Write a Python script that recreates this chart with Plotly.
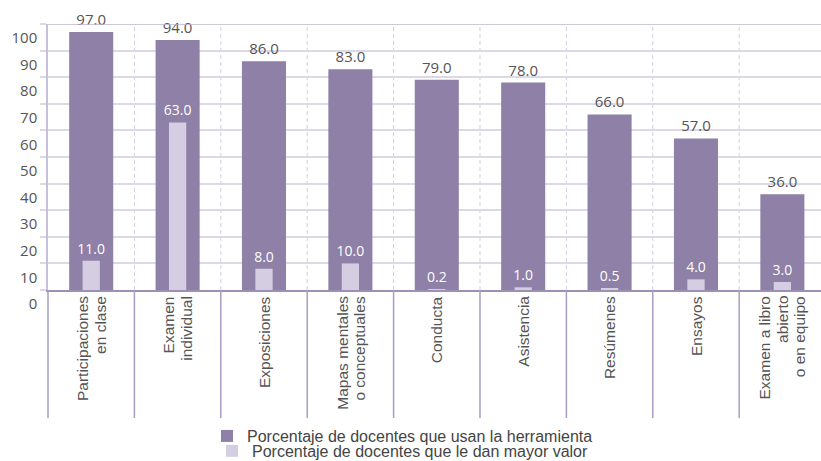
import plotly.graph_objects as go

categories = [
    "Participaciones\nen clase",
    "Examen\nindividual",
    "Exposiciones",
    "Mapas mentales\no conceptuales",
    "Conducta",
    "Asistencia",
    "Resúmenes",
    "Ensayos",
    "Examen a libro\nabierto\no en equipo",
]
usan = [97.0, 94.0, 86.0, 83.0, 79.0, 78.0, 66.0, 57.0, 36.0]
mayor_valor = [11.0, 63.0, 8.0, 10.0, 0.2, 1.0, 0.5, 4.0, 3.0]
y_ticks = [0, 10, 20, 30, 40, 50, 60, 70, 80, 90, 100]
legend_names = [
    "Porcentaje de docentes que usan la herramienta",
    "Porcentaje de docentes que le dan mayor valor",
]

PURPLE = "#8e80a6"
LIGHT = "#d5cde1"
GRID = "#ddd8e8"
SEP = "#a99cc3"
TXT = "#555555"

x = list(range(len(categories)))

fig = go.Figure()
fig.add_trace(go.Bar(
    x=x, y=usan, width=0.51, marker=dict(color=PURPLE, line=dict(width=0)),
    name=legend_names[0], text=[f"{v:.1f}" for v in usan],
    textposition="outside", cliponaxis=False, constraintext="none",
    textfont=dict(family="Open Sans", size=15, color=TXT),
    legend="legend",
))
fig.add_trace(go.Bar(
    x=x, y=mayor_valor, width=0.2, marker=dict(color=LIGHT, line=dict(width=0)),
    name=legend_names[1], text=[f"{v:.1f}" for v in mayor_valor],
    textposition="outside", cliponaxis=False, constraintext="none",
    textfont=dict(family="Open Sans", size=14, color="white"),
    legend="legend2",
))

shapes = []
# top border line
shapes.append(dict(type="line", xref="paper", yref="y", x0=0, x1=1, y0=100, y1=100,
                   line=dict(color="#bdb4cc", width=1.5)))
# separators: dashed within plot, solid below baseline
for i in range(len(categories)):
    xs = i + 0.5
    shapes.append(dict(type="line", xref="x", yref="y", x0=xs, x1=xs, y0=0, y1=100,
                       line=dict(color="#d4cde2", width=1, dash="4px,3px"), layer="below"))
    shapes.append(dict(type="line", xref="x", yref="paper", x0=xs, x1=xs, y0=-0.481, y1=0,
                       line=dict(color=SEP, width=1.5)))
# left axis extension below baseline
shapes.append(dict(type="line", xref="paper", yref="paper", x0=0, x1=0, y0=-0.481, y1=0,
                   line=dict(color=SEP, width=1.5)))

annotations = []
for i, lab in enumerate(categories):
    lines = lab.split("\n")
    n = len(lines)
    for j, ln in enumerate(lines):
        annotations.append(dict(
            x=i, xref="x", y=0, yref="paper", xanchor="center", yanchor="top",
            xshift=(j - (n - 1) / 2) * 17.4, yshift=-4, textangle=-90,
            text=ln, showarrow=False,
            font=dict(family="Liberation Sans", size=15.5, color=TXT),
        ))

fig.update_layout(
    width=821, height=461,
    margin=dict(l=48, r=0, t=24, b=171, pad=0, autoexpand=False),
    paper_bgcolor="white", plot_bgcolor="white",
    barmode="overlay",
    showlegend=True,
    shapes=shapes,
    annotations=annotations,
    legend=dict(x=0.2057, y=-0.549, xanchor="left", yanchor="middle",
                font=dict(family="Liberation Sans", size=16, color="#444444"),
                bgcolor="rgba(0,0,0,0)", borderwidth=0),
    legend2=dict(x=0.2122, y=-0.605, xanchor="left", yanchor="middle",
                 font=dict(family="Liberation Sans", size=16, color="#444444"),
                 bgcolor="rgba(0,0,0,0)", borderwidth=0),
    xaxis=dict(range=[-0.5, 8.447], showticklabels=False, showgrid=False,
               zeroline=False, showline=True, linecolor="#9d90b5", linewidth=1.5,
               ticks="", fixedrange=True),
    yaxis=dict(range=[0, 100], tickmode="array", tickvals=y_ticks,
               ticktext=[str(v) for v in y_ticks],
               showgrid=True, gridcolor=GRID, gridwidth=1.5,
               ticks="outside", ticklen=6, tickcolor=GRID, tickwidth=1.5,
               showline=True, linecolor="#c8bfda", linewidth=1.5,
               zeroline=False, ticklabelshift=14, ticklabeloverflow="allow",
               tickfont=dict(family="Open Sans", size=15, color=TXT)),
)

fig.write_html("out.html")
